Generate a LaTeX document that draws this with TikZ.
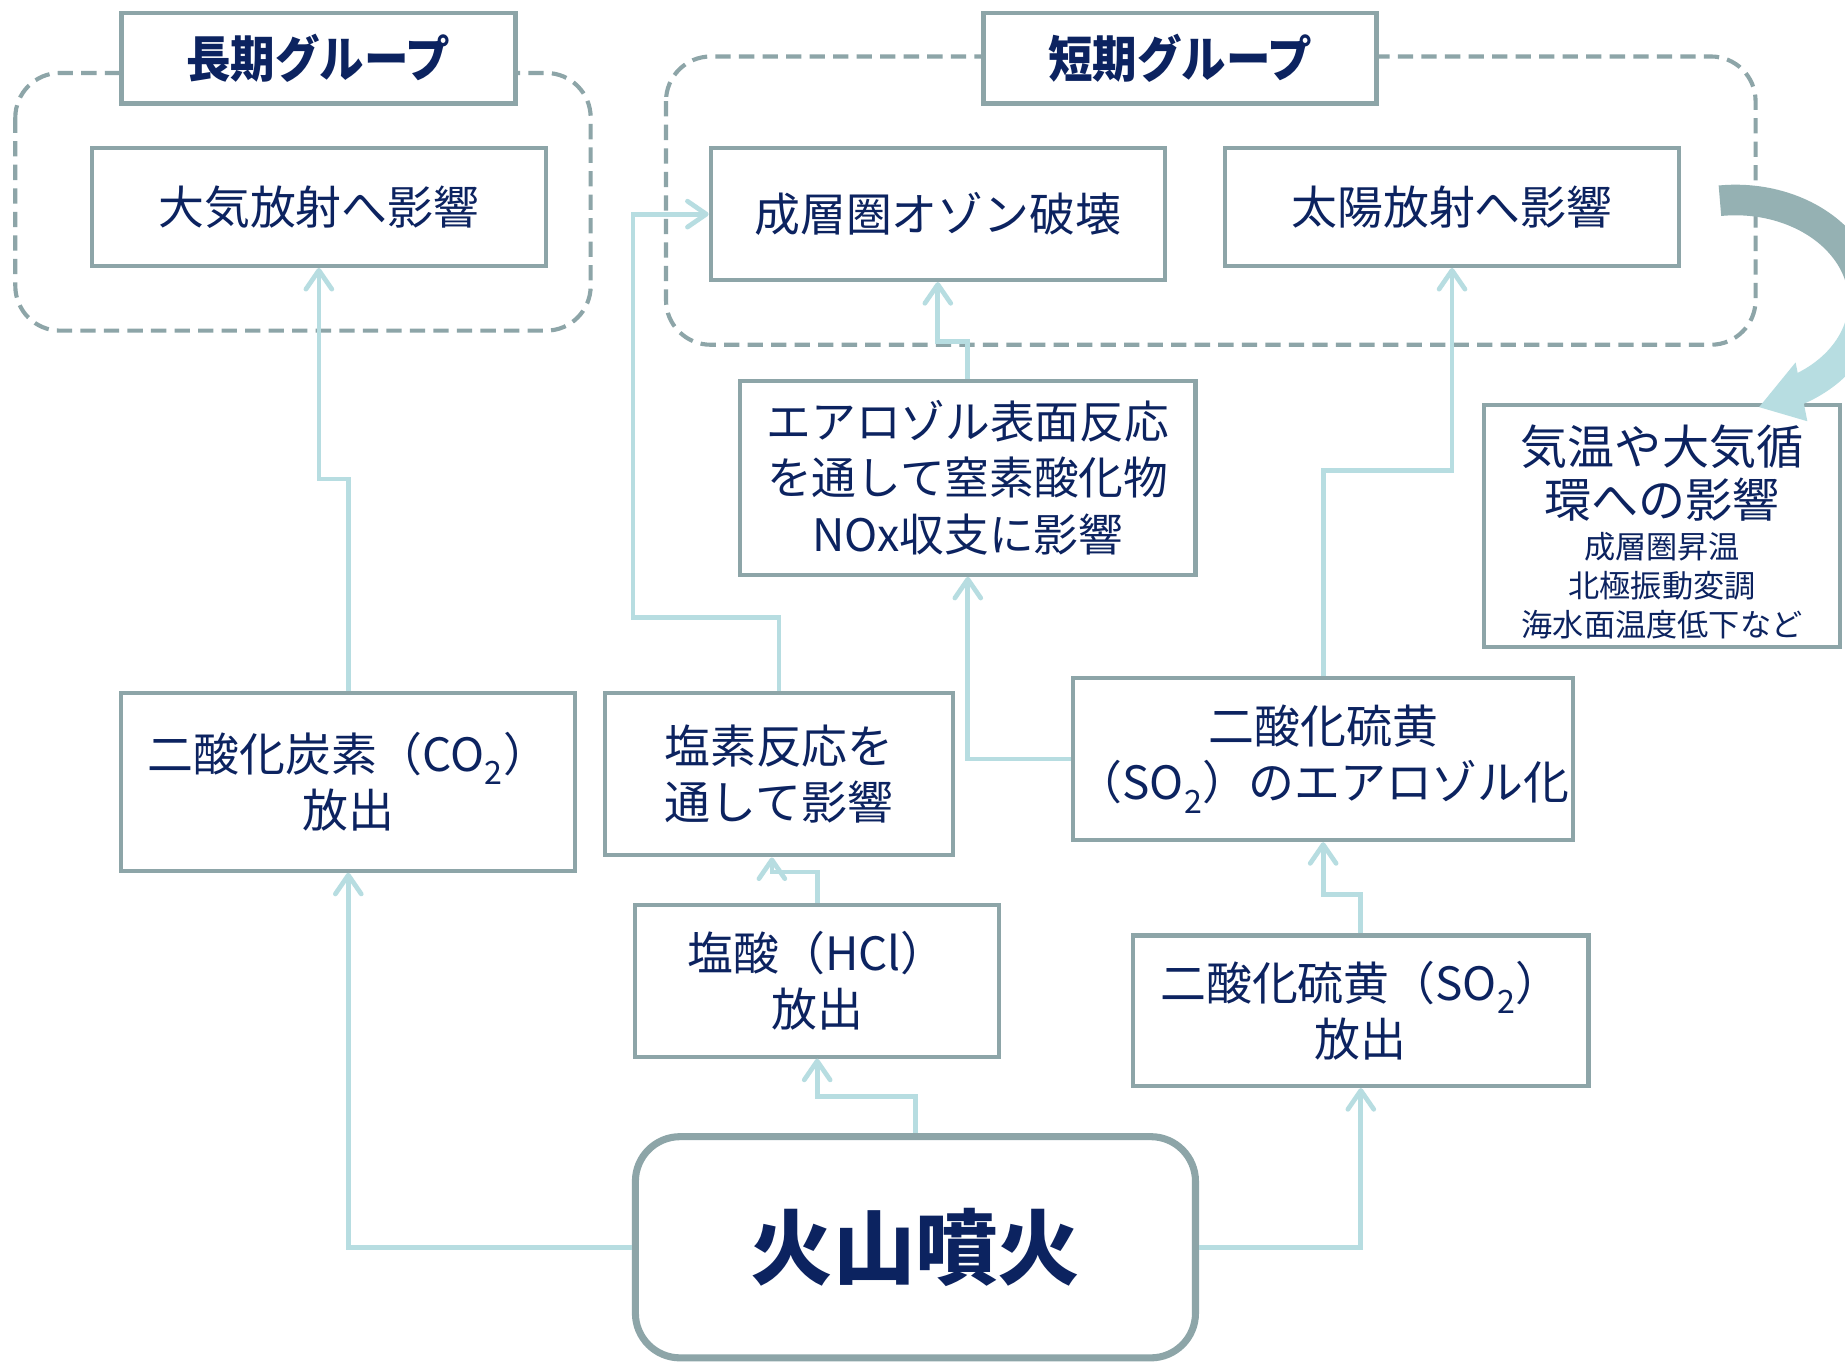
\documentclass[tikz,border=0pt]{standalone}
\usepackage{fontspec}
\setmainfont{Noto Sans CJK JP}
\usetikzlibrary{arrows.meta}
\definecolor{boxc}{RGB}{141,165,168}
\definecolor{conncol}{RGB}{183,221,225}
\definecolor{navy}{RGB}{12,35,96}
\definecolor{arcgray}{RGB}{149,177,179}
\newcommand\smalljp{\fontsize{26.5}{33}\selectfont}
\begin{document}
\begin{tikzpicture}[x=1pt,y=-1pt,
  box/.style={draw=boxc, line width=3.5, fill=white, text=navy, align=center, inner sep=0pt, font=\fontsize{39}{48}\selectfont},
  grp/.style={draw=boxc, line width=3.5, dash pattern=on 13pt off 7pt, rounded corners=38},
  ttl/.style={box, line width=4, font=\fontsize{42}{48}\selectfont\bfseries},
  conn/.style={draw=conncol, line width=4, -{Straight Barb[length=16pt,width=22pt,round]}},
]
\fill[white] (0,0) rectangle (1568,1158);
\useasboundingbox (0,0) rectangle (1568,1158);

% group frames
\draw[grp] (13,62) rectangle (502,281);
\draw[grp] (566,48) rectangle (1492,293);

% titles
\node[ttl, minimum width=335, minimum height=77] (tL) at (270.5,49.5) {\scalebox{0.9}[1]{長期グループ}};
\node[ttl, minimum width=334, minimum height=77] (tS) at (1003,49.5) {\scalebox{0.9}[1]{短期グループ}};

% boxes
\node[box, minimum width=386, minimum height=100] (atm) at (271,176) {大気放射へ影響};
\node[box, minimum width=386, minimum height=112] (ozone) at (797,182) {成層圏オゾン破壊};
\node[box, minimum width=386, minimum height=100] (solar) at (1234,176) {太陽放射へ影響};
\node[box, minimum width=387, minimum height=165, font=\fontsize{38}{48}\selectfont] (nox) at (822.5,406) {エアロゾル表面反応\\を通して窒素酸化物\\NOx収支に影響};
\node[box, text width=303, minimum height=206, font=\fontsize{40}{45}\selectfont] (clim) at (1412.5,447) {\rule{0pt}{44pt}気温や大気循\\環への影響\\[2pt]\smalljp 成層圏昇温\\\smalljp 北極振動変調\\[-12pt]\smalljp 海水面温度低下など};
\node[box, minimum width=386, minimum height=151] (co2) at (296,664.5) {二酸化炭素（CO\textsubscript{2}）\\放出};
\node[box, minimum width=296, minimum height=138] (cl) at (662,658) {塩素反応を\\通して影響};
\node[box, minimum width=425, minimum height=138] (so2a) at (1124.5,645) {二酸化硫黄\\（SO\textsubscript{2}）のエアロゾル化};
\node[box, minimum width=309, minimum height=129] (hcl) at (694.5,833.5) {塩酸（HCl）\\放出};
\node[box, minimum width=387, minimum height=128] (so2) at (1156.5,859) {二酸化硫黄（SO\textsubscript{2}）\\放出};
\node[box, line width=6, rounded corners=38, minimum width=476, minimum height=188, font=\fontsize{70}{80}\selectfont\bfseries] (vol) at (778,1060) {火山噴火};

% connectors
\draw[conn] (vol.west) -| (co2.south);
\draw[conn] (vol.north) -- (vol.north |- 0,932) -| (hcl.south);
\draw[conn] (vol.east) -| (so2.south);
\draw[conn] (hcl.north) -- (hcl.north |- 0,741) -| ([xshift=-6pt]cl.south);
\draw[conn] (so2.north) -- (so2.north |- 0,760) -| (so2a.south);
\draw[conn] (co2.north) -- (co2.north |- 0,407) -| (atm.south);
\draw[conn] (cl.north) -- (cl.north |- 0,525) -- (538,525) |- (ozone.west);
\draw[conn] (so2a.west) -| (nox.south);
\draw[conn] (nox.north) -- (nox.north |- 0,290) -| (ozone.south);
\draw[conn] (so2a.north) -- (so2a.north |- 0,400) -| (solar.south);

% curved arrow
\draw[arcgray, line width=26] (1461.7,170.6) arc[start angle=-97, end angle=0, x radius=109, y radius=86];
\draw[conncol, line width=26] (1584,256) arc[start angle=0, end angle=62, x radius=109, y radius=86];
\fill[conncol] (1495,346) -- (1526,308) -- (1536,358) -- cycle;
\end{tikzpicture}
\end{document}
